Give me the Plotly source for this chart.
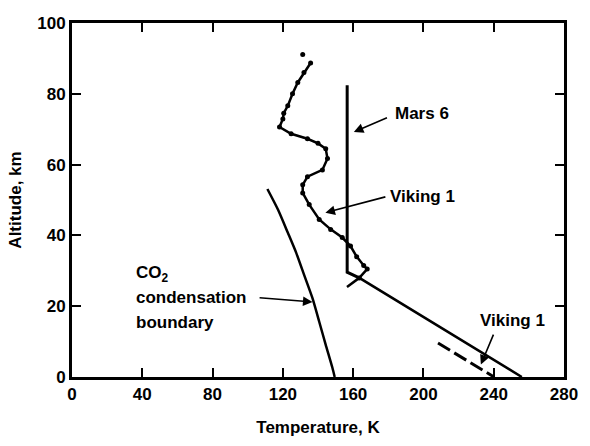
import plotly.graph_objects as go

# Viking 1 measured profile (temperature K, altitude km)
viking_temp = [135.8, 132.0, 128.5, 125.5, 122.8, 120.5, 120.0, 118.1, 124.7, 134.0, 140.0,
               144.4, 145.4, 142.5, 134.0, 131.3, 131.3, 135.0, 140.7, 147.2, 153.8, 158.5,
               162.0, 166.0, 168.0, 163.5]
viking_alt = [88.7, 86.0, 83.2, 80.0, 76.6, 74.5, 72.9, 70.6, 68.7, 67.3, 66.0,
              64.5, 61.7, 58.5, 56.6, 54.3, 52.0, 48.7, 44.5, 41.7, 39.4, 37.0,
              34.0, 31.5, 30.5, 28.0]
viking_top_temp = [131.3]
viking_top_alt = [91.1]

# Lower Viking 1 straight profile
lower_temp = [156.5, 163.5, 256.0]
lower_alt = [25.4, 28.0, 0.0]

# Mars 6 profile
mars6_temp = [156.6, 156.6, 163.5]
mars6_alt = [82.4, 29.6, 28.0]

# CO2 condensation boundary
co2_temp = [111.2, 117.2, 122.8, 127.5, 132.2, 136.9, 140.7, 144.4, 148.2, 149.5]
co2_alt = [53.1, 47.3, 40.8, 35.2, 28.7, 22.2, 15.6, 9.1, 2.6, 0.0]

# Viking 1 surface (dashed)
surf_temp = [208.3, 240.2]
surf_alt = [9.6, 0.0]

x_ticks = [0, 40, 80, 120, 160, 200, 240, 280]
y_ticks = [0, 20, 40, 60, 80, 100]

FONT = dict(family="Liberation Sans, Arial, sans-serif", size=17, color="black", weight="bold")

fig = go.Figure()
fig.add_trace(go.Scatter(x=viking_temp, y=viking_alt, mode="lines+markers",
                         line=dict(color="black", width=2.5),
                         marker=dict(color="black", size=5)))
fig.add_trace(go.Scatter(x=viking_top_temp, y=viking_top_alt, mode="markers",
                         marker=dict(color="black", size=5)))
fig.add_trace(go.Scatter(x=lower_temp, y=lower_alt, mode="lines",
                         line=dict(color="black", width=2.5)))
fig.add_trace(go.Scatter(x=mars6_temp, y=mars6_alt, mode="lines",
                         line=dict(color="black", width=3)))
fig.add_trace(go.Scatter(x=co2_temp, y=co2_alt, mode="lines",
                         line=dict(color="black", width=2.5, shape="spline", smoothing=0.6)))
fig.add_trace(go.Scatter(x=surf_temp, y=surf_alt, mode="lines",
                         line=dict(color="black", width=3, dash="14px,5px")))

def arrow(hx, hy, tx, ty):
    fig.add_annotation(x=hx, y=hy, ax=tx, ay=ty, xref="x", yref="y", axref="x", ayref="y",
                       text="", showarrow=True, arrowhead=2, arrowsize=1.2, arrowwidth=1.6,
                       arrowcolor="black")

def label(x, y, text):
    fig.add_annotation(x=x, y=y, xref="x", yref="y", text=text, showarrow=False,
                       xanchor="left", yanchor="middle", font=FONT)

arrow(160.4, 69.2, 180.1, 73.4)
arrow(144.2, 46.4, 179.2, 51.0)
arrow(136.9, 21.2, 105.9, 22.4)
arrow(232.7, 3.5, 240.2, 12.4)

label(182.5, 74.3, "Mars 6")
label(180.0, 51.0, "Viking 1")
label(35.5, 29.0, "CO<sub>2</sub>")
label(35.5, 22.6, "condensation")
label(35.5, 15.4, "boundary")
label(231.0, 16.1, "Viking 1")

axis_common = dict(showgrid=False, zeroline=False, showline=True, linecolor="black",
                   linewidth=3, mirror="ticks", ticks="inside", ticklen=9, tickwidth=2,
                   tickcolor="black", tickfont=FONT)

fig.update_xaxes(range=[0, 280], tickvals=x_ticks, ticktext=[str(v) for v in x_ticks],
                 title=dict(text="Temperature, K", font=FONT, standoff=18), **axis_common)
fig.update_yaxes(range=[0, 100], tickvals=y_ticks, ticktext=[str(v) for v in y_ticks],
                 title=dict(text="Altitude, km", font=FONT, standoff=12), **axis_common)

fig.update_layout(width=590, height=446, margin=dict(l=72, r=22, t=23, b=65),
                  plot_bgcolor="white", paper_bgcolor="white", showlegend=False)

fig.write_html("out.html")
